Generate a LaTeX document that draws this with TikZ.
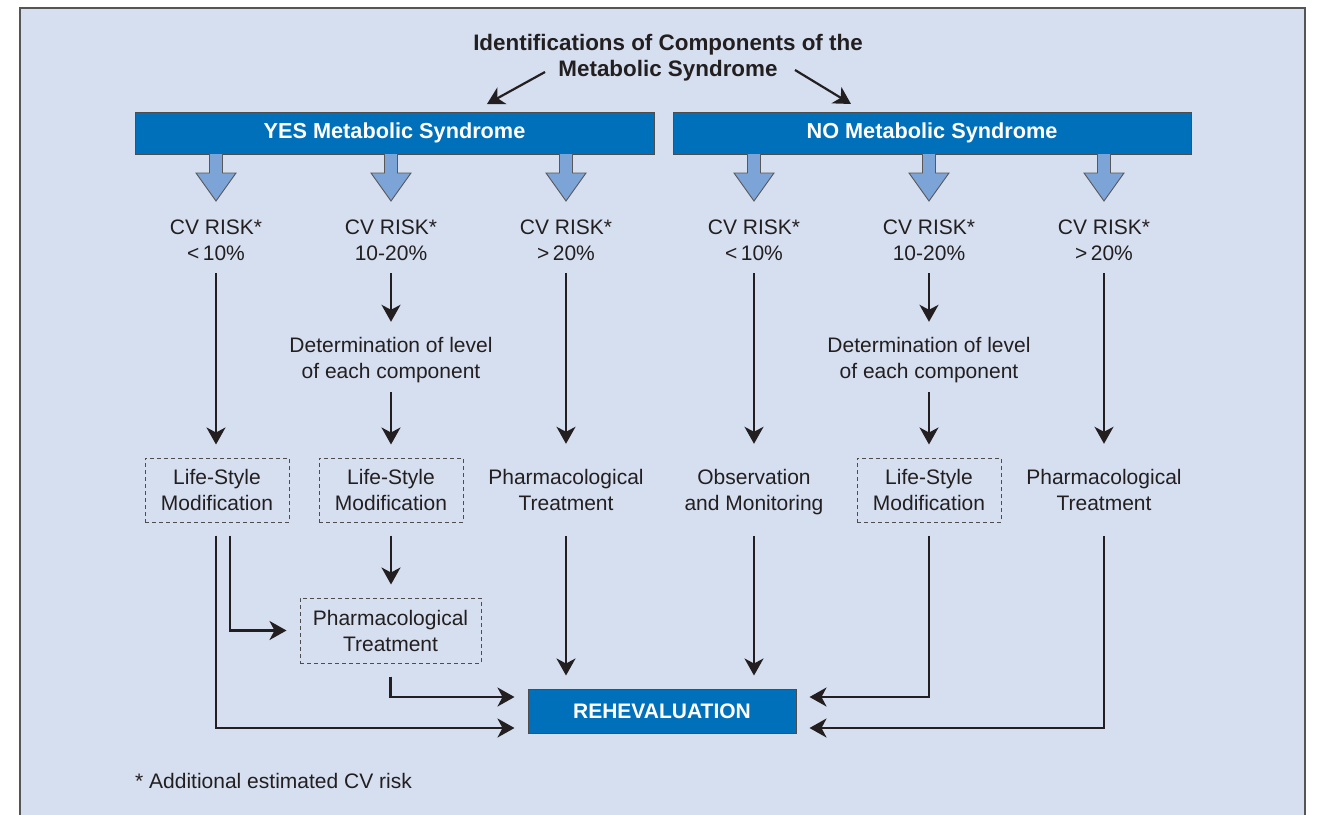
\documentclass[tikz,border=0pt]{standalone}
\usepackage{fontspec}
\setmainfont{Liberation Sans}
\usetikzlibrary{arrows.meta}
\definecolor{panelbg}{RGB}{213,223,240}
\definecolor{panelrule}{RGB}{85,85,85}
\definecolor{boxblue}{RGB}{0,112,186}
\definecolor{lightarrow}{RGB}{124,164,214}
\definecolor{ink}{RGB}{35,31,32}
\begin{document}
\begin{tikzpicture}[x=1pt,y=-1pt,
  font=\fontsize{21}{26}\selectfont, text=ink,
  arr/.style={draw=ink, line width=2.2pt, -{Stealth[length=17pt,width=19pt,inset=5pt]}},
  bluebox/.style={draw=ink!80, line width=1pt, fill=boxblue, text=white,
     font=\fontsize{21.7}{26}\selectfont\bfseries, inner sep=0pt},
  dashbox/.style={draw=ink!80, line width=0.9pt, dash pattern=on 4pt off 3pt,
     align=center, inner sep=0pt, outer sep=13.5pt},
  txt/.style={align=center, inner sep=0pt},
  blockarr/.style={fill=lightarrow, draw=ink!75, line width=0.9pt}
]
\useasboundingbox (0,0) rectangle (1320,814);
\fill[white] (0,0) rectangle (1320,814);
\fill[panelbg] (20,8) rectangle (1305,820);
\draw[panelrule, line width=1.6pt] (20,820) -- (20,8) -- (1305,8) -- (1305,820);

% title
\node[txt, font=\fontsize{22.4}{26}\selectfont\bfseries] (title) at (668,58)
  {Identifications of Components of the\\Metabolic Syndrome};
\coordinate (tLs) at (545,72);
\coordinate (tLe) at (487,104);
\coordinate (tRs) at (795,70);
\coordinate (tRe) at (851,104);
\draw[arr] (tLs) -- (tLe);
\draw[arr] (tRs) -- (tRe);

% top boxes
\node[bluebox, minimum width=519pt, minimum height=42pt] (yes) at (394.5,133) {YES Metabolic Syndrome};
\node[bluebox, minimum width=518pt, minimum height=42pt] (no) at (932,133) {NO Metabolic Syndrome};

% block arrows
\foreach \x in {216,391,566,754,929,1104}{
  \draw[blockarr] (\x-6.5,154) -- (\x-6.5,173) -- (\x-20,173) -- (\x,201)
     -- (\x+20,173) -- (\x+6.5,173) -- (\x+6.5,154);
}

% risk nodes
\node[txt, minimum height=66pt] (r1) at (216,240) {CV RISK*\\{<}\,10\%};
\node[txt, minimum height=66pt] (r2) at (391,240) {CV RISK*\\10-20\%};
\node[txt, minimum height=66pt] (r3) at (566,240) {CV RISK*\\{>}\,20\%};
\node[txt, minimum height=66pt] (r4) at (754,240) {CV RISK*\\{<}\,10\%};
\node[txt, minimum height=66pt] (r5) at (929,240) {CV RISK*\\10-20\%};
\node[txt, minimum height=66pt] (r6) at (1104,240) {CV RISK*\\{>}\,20\%};

% determination
\node[txt, minimum height=70pt] (d2) at (391,357) {\rule{0pt}{22pt}Determination of level\\of each component};
\node[txt, minimum height=70pt] (d5) at (929,357) {\rule{0pt}{22pt}Determination of level\\of each component};

% second row
\node[dashbox, minimum width=144pt, minimum height=64pt] (ls1) at (217,490) {Life-Style\\Modification};
\node[dashbox, minimum width=144pt, minimum height=64pt] (ls2) at (391,490) {Life-Style\\Modification};
\node[txt, minimum height=92pt] (p3) at (566,490) {Pharmacological\\Treatment};
\node[txt, minimum height=92pt] (o4) at (754,490) {\rule{0pt}{20pt}Observation\\and Monitoring};
\node[dashbox, minimum width=144pt, minimum height=64pt] (ls5) at (929,490) {Life-Style\\Modification};
\node[txt, minimum height=92pt] (p6) at (1104,490) {Pharmacological\\Treatment};

% lower pharmacological box
\node[dashbox, minimum width=181pt, minimum height=65pt] (ph) at (390.5,630.5) {Pharmacological\\Treatment};

% re-evaluation
\node[bluebox, font=\fontsize{21}{26}\selectfont\bfseries, minimum width=268pt, minimum height=44pt, outer sep=13.5pt] (re) at (662,711) {REHEVALUATION};

% footnote
\node[anchor=west, inner sep=0pt] (foot) at (135,781) {* Additional estimated CV risk};

% connectors
\draw[arr] (r1.south) -- (ls1.north -| r1.south);
\draw[arr] (r2.south) -- (d2.north);
\draw[arr] (d2.south) -- (ls2.north);
\draw[arr] (r3.south) -- (p3.north);
\draw[arr] (r4.south) -- (o4.north);
\draw[arr] (r5.south) -- (d5.north);
\draw[arr] (d5.south) -- (ls5.north);
\draw[arr] (r6.south) -- (p6.north);

\draw[arr] (ls2.south) -- (ph.north -| ls2.south);
\draw[arr] ([xshift=-1pt]ls1.south) |- ([yshift=-17pt]re.west);
\draw[arr] ([xshift=13pt]ls1.south) |- (ph.west);
\draw[arr] (ph.south) |- ([yshift=14pt]re.west);
\draw[arr] (p3.south) -- (re.north -| p3.south);
\draw[arr] (o4.south) -- (re.north -| o4.south);
\draw[arr] (ls5.south) |- ([yshift=14pt]re.east);
\draw[arr] (p6.south) |- ([yshift=-17pt]re.east);
\end{tikzpicture}
\end{document}
